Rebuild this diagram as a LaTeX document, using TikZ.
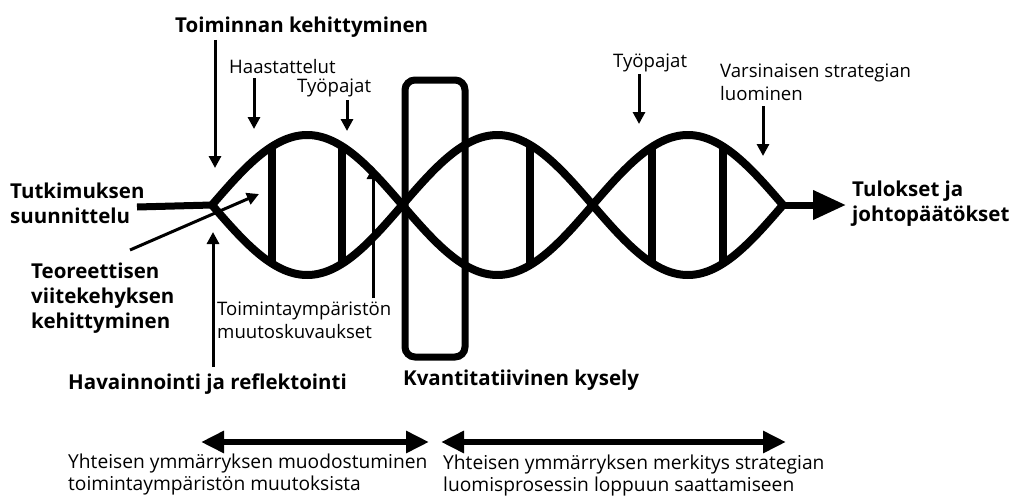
\documentclass[tikz,border=0pt]{standalone}
\usepackage{fontspec}
\setmainfont{Open Sans}
\usetikzlibrary{arrows.meta}
\begin{document}
\begin{tikzpicture}[x=1pt,y=-1pt,
  strand/.style={line width=8pt},
  rung/.style={line width=8pt},
  thinarrow/.style={line width=3pt,-{Triangle[length=12pt,width=12pt]}},
  dblarrow/.style={line width=6pt,{Triangle[length=23pt,width=21pt]}-{Triangle[length=23pt,width=21pt]}},
  boldlbl/.style={font=\fontsize{20.5}{25}\selectfont\bfseries,align=left,inner sep=0pt,anchor=base west},
  smalllbl/.style={font=\fontsize{18.6}{22.5}\selectfont,align=left,inner sep=0pt,anchor=base west},
  botlbl/.style={font=\fontsize{19.2}{22}\selectfont,align=left,inner sep=0pt,anchor=base west}]
\useasboundingbox (0,0) rectangle (1016,495);
% helix
\def\kf{0.94573}
\draw[strand] plot[domain=212:783,samples=240,smooth] (\x,{205-70*sin(\kf*(\x-212))});
\draw[strand] plot[domain=212:783,samples=240,smooth] (\x,{205+70*sin(\kf*(\x-212))});
\foreach \r in {272,342,530,652,723}{
  \draw[rung] (\r,{205-70*sin(\kf*(\r-212))}) -- (\r,{205+70*sin(\kf*(\r-212))});
}
% box
\draw[line width=7pt,rounded corners=10pt] (405,80) rectangle (465,357);
% tips
\coordinate (ltip) at (212,205);
\coordinate (rtip) at (782,205);
\coordinate (rend) at (846,205);
% labels (base anchor = baseline of the last line)
\node[boldlbl] (toim) at (175,33) {Toiminnan kehittyminen};
\node[smalllbl] (haas) at (229,73) {Haastattelut};
\node[smalllbl] (tyo1) at (297,92) {Työpajat};
\node[boldlbl] (tutk) at (10,223) {Tutkimuksen\\suunnittelu};
\node[boldlbl] (teor) at (31,328) {Teoreettisen\\viitekehyksen\\kehittyminen};
\node[smalllbl] (toimu) at (217,338) {Toimintaympäristön\\muutoskuvaukset};
\node[boldlbl] (hava) at (68,389) {Havainnointi ja reflektointi};
\node[boldlbl] (kvan) at (403,385) {Kvantitatiivinen kysely};
\node[smalllbl] (tyo2) at (613,67) {Työpajat};
\node[smalllbl] (vars) at (720,100) {Varsinaisen strategian\\luominen};
\node[boldlbl] (tulo) at (852,221) {Tulokset ja\\johtopäätökset};
\node[botlbl] (yht1) at (68,490) {Yhteisen ymmärryksen muodostuminen\\toimintaympäristön muutoksista};
\node[botlbl] (yht2) at (443,491) {Yhteisen ymmärryksen merkitys strategian\\luomisprosessin loppuun saattamiseen};
% arrow coordinates
\coordinate (a1s) at (215,40);  \coordinate (a1e) at (215,168);
\coordinate (a2s) at (254,78);  \coordinate (a2e) at (254,129);
\coordinate (a3s) at (347,100); \coordinate (a3e) at (347,131);
\coordinate (a4s) at (373,298); \coordinate (a4e) at (373,167);
\coordinate (a5s) at (130,250); \coordinate (a5e) at (259,194);
\coordinate (a6s) at (213,367); \coordinate (a6e) at (213,232);
\coordinate (a7s) at (639,74);  \coordinate (a7e) at (639,124);
\coordinate (a8s) at (763,106); \coordinate (a8e) at (763,156);
\coordinate (tutkend) at (137,207);
\draw[thinarrow] (a1s) -- (a1e);
\draw[thinarrow] (a2s) -- (a2e);
\draw[thinarrow] (a3s) -- (a3e);
\draw[thinarrow] (a4s) -- (a4e);
\draw[thinarrow] (a5s) -- (a5e);
\draw[thinarrow] (a6s) -- (a6e);
\draw[thinarrow] (a7s) -- (a7e);
\draw[thinarrow] (a8s) -- (a8e);
\draw[line width=7pt] (tutkend) -- (ltip);
\draw[line width=7pt,-{Triangle[length=33pt,width=28pt]}] (rtip) -- (rend);
% bottom arrows
\coordinate (b1l) at (201,442); \coordinate (b1r) at (429,442);
\coordinate (b2l) at (441,442); \coordinate (b2r) at (786,442);
\draw[dblarrow] (b1l) -- (b1r);
\draw[dblarrow] (b2l) -- (b2r);
\end{tikzpicture}
\end{document}
